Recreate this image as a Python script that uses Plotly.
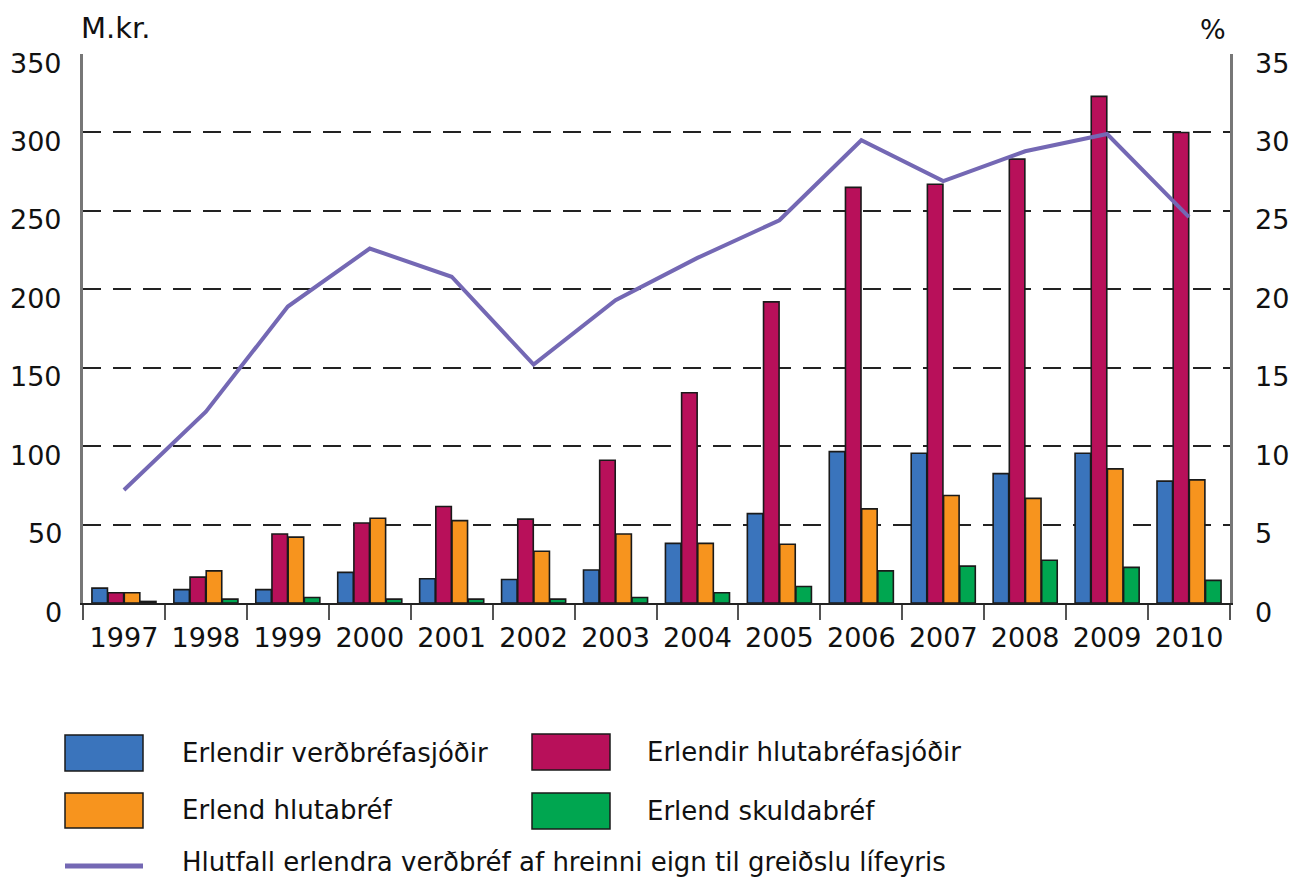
import plotly.graph_objects as go

years = ["1997", "1998", "1999", "2000", "2001", "2002", "2003",
         "2004", "2005", "2006", "2007", "2008", "2009", "2010"]
verdbrefasjodir = [9.5, 8.5, 8.5, 19.5, 15.5, 15, 21, 38, 57, 96.5, 95.5, 82.5, 95.5, 77.7]
hlutabrefasjodir = [6.5, 16.5, 44, 51, 61.5, 53.5, 91, 134, 192, 265, 267, 283, 323, 300]
hlutabref = [6.5, 20.5, 42, 54, 52.5, 33, 44, 38, 37.5, 60, 68.5, 66.7, 85.5, 78.5]
skuldabref = [1, 2.5, 3.5, 2.5, 2.5, 2.5, 3.5, 6.5, 10.5, 20.5, 23.5, 27.3, 22.7, 14.4]
hlutfall = [7.2, 12.2, 18.9, 22.6, 20.8, 15.2, 19.3, 22.0, 24.4, 29.5, 26.9, 28.8, 29.9, 24.6]
left_ticks = [0, 50, 100, 150, 200, 250, 300, 350]
right_ticks = [0, 5, 10, 15, 20, 25, 30, 35]

names = ["Erlendir verðbréfasjóðir", "Erlendir hlutabréfasjóðir",
         "Erlend hlutabréf", "Erlend skuldabréf",
         "Hlutfall erlendra verðbréf af hreinni eign til greiðslu lífeyris"]
colors = ["#3A74BC", "#B8105A", "#F7941E", "#00A650", "#7468B4"]

FONT = "DejaVu Sans"

fig = go.Figure()
for vals, name, col in zip([verdbrefasjodir, hlutabrefasjodir, hlutabref, skuldabref],
                           names[:4], colors[:4]):
    fig.add_trace(go.Bar(x=years, y=vals, name=name, marker_color=col,
                         marker_line_color="#1a1a1a", marker_line_width=1.6,
                         showlegend=False))
fig.add_trace(go.Scatter(x=years, y=hlutfall, name=names[4], mode="lines",
                         line=dict(color=colors[4], width=4), yaxis="y2",
                         showlegend=False))

W, H = 1295, 882
L, R, T, B = 83, 1230, 54, 603


def px(x):
    return (x - L) / (R - L)


def py(y):
    return (B - y) / (B - T)


shapes = []
annotations = []
# manual legend
legend_items = [
    (65, 735, 143, 771, 180, 753, 0),
    (532, 734, 610, 770, 645, 752, 1),
    (65, 793, 143, 828, 180, 810, 2),
    (532, 793, 610, 829, 645, 811, 3),
]
for x0, y0, x1, y1, tx, ty, i in legend_items:
    shapes.append(dict(type="rect", xref="paper", yref="paper",
                       x0=px(x0), x1=px(x1), y0=py(y1), y1=py(y0),
                       fillcolor=colors[i], line=dict(color="#1a1a1a", width=1.5)))
    annotations.append(dict(xref="paper", yref="paper", x=px(tx), y=py(ty),
                            text=names[i], showarrow=False, xanchor="left",
                            yanchor="middle",
                            font=dict(family=FONT, size=26, color="#111")))
shapes.append(dict(type="line", xref="paper", yref="paper",
                   x0=px(65), x1=px(143), y0=py(866), y1=py(866),
                   line=dict(color=colors[4], width=5)))
annotations.append(dict(xref="paper", yref="paper", x=px(180), y=py(862),
                        text=names[4], showarrow=False, xanchor="left",
                        yanchor="middle",
                        font=dict(family=FONT, size=26, color="#111")))
annotations.append(dict(xref="paper", yref="paper", x=px(79), y=py(28),
                        text="M.kr.", showarrow=False, xanchor="left",
                        yanchor="middle",
                        font=dict(family=FONT, size=29, color="#111")))
annotations.append(dict(xref="paper", yref="paper", x=px(1228), y=py(29),
                        text="%", showarrow=False, xanchor="right",
                        yanchor="middle",
                        font=dict(family=FONT, size=27, color="#111")))
# axis tick labels (drawn slightly below their grid lines, as in the reference)
for v in left_ticks:
    annotations.append(dict(xref="paper", yref="y", x=px(64), y=v, yshift=-9,
                            text=str(v), showarrow=False, xanchor="right",
                            yanchor="middle",
                            font=dict(family=FONT, size=27, color="#111")))
for v in right_ticks:
    annotations.append(dict(xref="paper", yref="y2", x=px(1253), y=v, yshift=-9,
                            text=str(v), showarrow=False, xanchor="left",
                            yanchor="middle",
                            font=dict(family=FONT, size=27, color="#111")))

fig.update_layout(
    width=W, height=H,
    margin=dict(l=L, r=W - R, t=T, b=H - B),
    paper_bgcolor="white", plot_bgcolor="white",
    barmode="group", bargap=0.21, bargroupgap=0.04,
    font=dict(family=FONT, size=27, color="#111"),
    shapes=shapes, annotations=annotations,
    xaxis=dict(type="category", showline=True, linecolor="#222", linewidth=2,
               ticks="outside", tickson="boundaries", ticklen=15,
               tickwidth=2, tickcolor="#555", showgrid=False,
               ticklabelstandoff=10,
               tickfont=dict(family=FONT, size=27), mirror=False),
    yaxis=dict(range=[0, 350], tickvals=left_ticks,
               showgrid=True, gridcolor="#222", gridwidth=2,
               griddash="18px,12px", zeroline=False, showticklabels=False,
               showline=True, linecolor="#777", linewidth=2.5, mirror=True,
               ticks=""),
    yaxis2=dict(range=[0, 35], tickvals=right_ticks,
                overlaying="y", side="right", showgrid=False, zeroline=False,
                showline=True, linecolor="#777", linewidth=2.5,
                ticks="", showticklabels=False),
)

fig.write_html(
    "out.html",
    config={"displayModeBar": False},
    post_script=("document.body.style.margin='0px';"
                 "document.body.style.overflow='hidden';"
                 "document.documentElement.style.overflow='hidden';"),
)
